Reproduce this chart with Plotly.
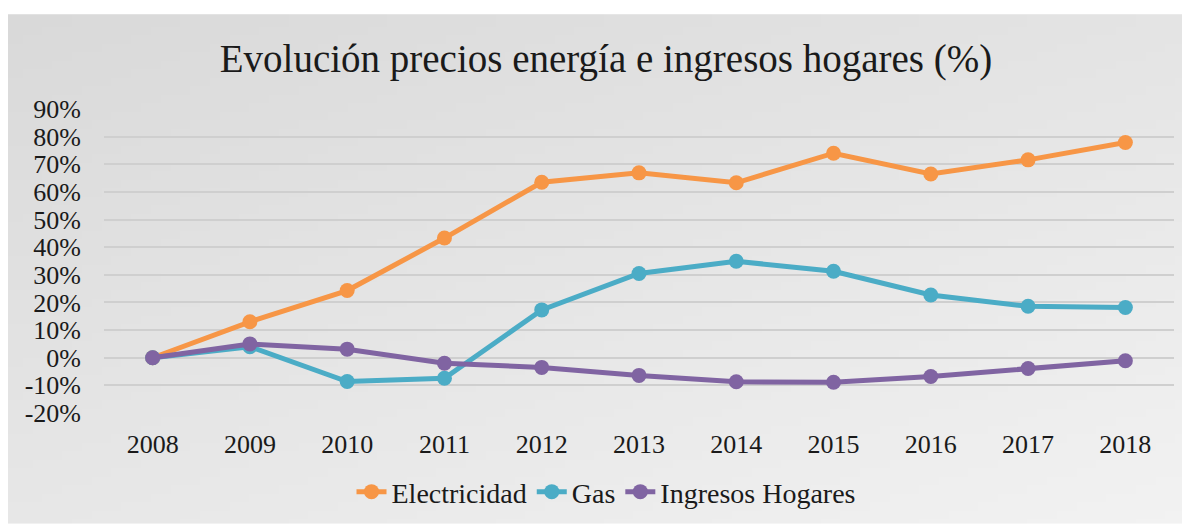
import base64, struct, zlib
import plotly.graph_objects as go

years = ["2008", "2009", "2010", "2011", "2012", "2013", "2014", "2015", "2016", "2017", "2018"]
electricidad = [0.0, 13.0, 24.3, 43.3, 63.5, 66.9, 63.3, 74.0, 66.5, 71.6, 77.9]
gas = [0.0, 4.0, -8.6, -7.4, 17.3, 30.5, 34.9, 31.3, 22.7, 18.6, 18.2]
ingresos = [0.0, 5.0, 3.1, -2.0, -3.5, -6.4, -8.7, -8.9, -6.8, -3.9, -1.1]

series_names = ["Electricidad", "Gas", "Ingresos Hogares"]
series_values = [electricidad, gas, ingresos]
series_colors = ["#F79646", "#4BACC6", "#8064A2"]

y_ticks = [-20, -10, 0, 10, 20, 30, 40, 50, 60, 70, 80, 90]
y_ticktext = [f"{v}%" for v in y_ticks]


def gradient_png(w, h):
    raw = b""
    for y in range(h):
        row = bytearray([0])
        for x in range(w):
            v = int(round(217 + 11 * x / (w - 1) + 14 * y / (h - 1)))
            row += bytes([v, v, v])
        raw += bytes(row)

    def chunk(t, d):
        c = struct.pack(">I", len(d)) + t + d
        return c + struct.pack(">I", zlib.crc32(t + d) & 0xFFFFFFFF)

    png = b"\x89PNG\r\n\x1a\n"
    png += chunk(b"IHDR", struct.pack(">IIBBBBB", w, h, 8, 2, 0, 0, 0))
    png += chunk(b"IDAT", zlib.compress(raw, 9))
    png += chunk(b"IEND", b"")
    return "data:image/png;base64," + base64.b64encode(png).decode()


FONT = "Liberation Serif"

fig = go.Figure()
for name, vals, col in zip(series_names, series_values, series_colors):
    fig.add_trace(go.Scatter(
        x=years, y=vals, name=name, mode="lines+markers",
        line=dict(color=col, width=5),
        marker=dict(color=col, size=15),
    ))

# page body has an 8px margin, so the figure starts at (8, 8)
W, H = 1182, 521
L, R, T, B = 96, 16, 101, 112
pw, ph = W - L - R, H - T - B
gx0, gy0 = 0, 5

fig.add_layout_image(dict(
    source=gradient_png(120, 60), xref="paper", yref="paper",
    x=(gx0 - L) / pw, y=(H - B - gy0) / ph,
    sizex=(W - gx0) / pw, sizey=(H - gy0) / ph,
    xanchor="left", yanchor="top", sizing="stretch", layer="below",
))

fig.update_layout(
    width=W, height=H,
    margin=dict(l=L, r=R, t=T, b=B),
    paper_bgcolor="white", plot_bgcolor="rgba(0,0,0,0)",
    title=dict(text="Evolución precios energía e ingresos hogares (%)",
               x=(606 - 8) / W, xanchor="center", y=1 - 50 / H, yanchor="middle",
               font=dict(family=FONT, size=39, color="#1a1a1a")),
    font=dict(family=FONT, size=26, color="#1a1a1a"),
    showlegend=True,
    legend=dict(orientation="h", x=(606 - 8 - L) / pw, xanchor="center",
                y=(H - B - (497 - 8)) / ph, yanchor="middle",
                font=dict(family=FONT, size=28, color="#1a1a1a"),
                bgcolor="rgba(0,0,0,0)"),
    xaxis=dict(range=[-0.5, 10.5], showgrid=False, showline=False, zeroline=False,
               ticks="", ticklabelstandoff=13, tickfont=dict(size=26)),
    yaxis=dict(range=[-20, 90], tickvals=y_ticks, ticktext=y_ticktext,
               showgrid=True, gridcolor="#cfcfcf", gridwidth=1.5,
               zeroline=False, showline=False, ticks="", ticklabelstandoff=22,
               tickfont=dict(size=26)),
)

fig.write_html("out.html")
